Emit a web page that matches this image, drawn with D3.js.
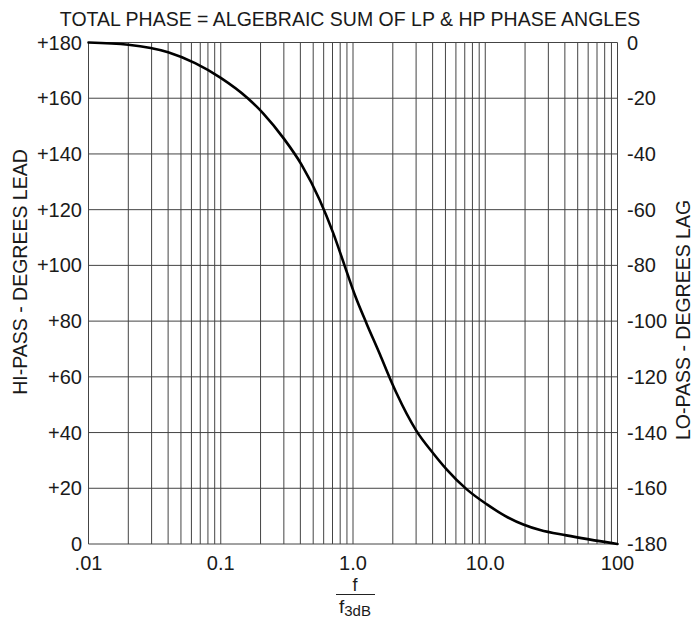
<!DOCTYPE html>
<html>
<head>
<meta charset="utf-8">
<script src="https://cdn.jsdelivr.net/npm/d3@7/dist/d3.min.js"></script>
<style>
  body { margin: 0; background: #fff; }
  svg text { font-family: "Liberation Sans", Arial, sans-serif; fill: #1a1a1a; }
</style>
</head>
<body>
<svg width="697" height="620"></svg>
<script>
// normalised frequency f / f3dB and hi-pass phase lead (deg)
var freq  = [0.01, 0.02, 0.04, 0.064, 0.1, 0.16, 0.21, 0.3, 0.41, 0.56, 0.71, 0.86, 1.04, 1.27, 1.6, 1.9, 2.14, 3.0, 4.05, 5.1, 7.25, 10.3, 14, 19.4, 26, 41, 100];
var phase = [180, 179.2, 176.5, 172.6, 167.3, 160, 154.5, 145.5, 136, 123.5, 111.5, 100.2, 89, 79, 68, 59.5, 54, 40.8, 32.5, 26.8, 19.6, 14.2, 10.2, 7, 5, 3.1, 0];

var yTicks = [180, 160, 140, 120, 100, 80, 60, 40, 20, 0];
var leftLabels  = ['+180', '+160', '+140', '+120', '+100', '+80', '+60', '+40', '+20', '0'];
var rightLabels = ['0', '-20', '-40', '-60', '-80', '-100', '-120', '-140', '-160', '-180'];
var xTicks  = [0.01, 0.1, 1, 10, 100];
var xLabels = ['.01', '0.1', '1.0', '10.0', '100'];

var svg = d3.select('svg');
var plotLeft = 88.5, plotRight = 617.5, plotTop = 42.5, plotBottom = 544;

var x = d3.scaleLog().domain([0.01, 100]).range([plotLeft, plotRight]);
var y = d3.scaleLinear().domain([0, 180]).range([plotBottom, plotTop]);

// 1..9 lines in every decade
var vlines = [];
for (var e = -2; e < 2; e++) {
  for (var k = 1; k <= 9; k++) vlines.push(k * Math.pow(10, e));
}
vlines.push(100);

var grid = svg.append('g').attr('stroke', '#444').attr('stroke-width', 1);

grid.selectAll('line.v')
  .data(vlines)
  .enter().append('line')
  .attr('class', 'v')
  .attr('x1', function(d) { return x(d); })
  .attr('x2', function(d) { return x(d); })
  .attr('y1', plotTop)
  .attr('y2', plotBottom);

grid.selectAll('line.h')
  .data(yTicks)
  .enter().append('line')
  .attr('class', 'h')
  .attr('x1', plotLeft)
  .attr('x2', plotRight)
  .attr('y1', function(d) { return y(d); })
  .attr('y2', function(d) { return y(d); });

// phase curve
var line = d3.line()
  .x(function(d, i) { return x(freq[i]); })
  .y(function(d) { return y(d); })
  .curve(d3.curveMonotoneX);

svg.append('path')
  .datum(phase)
  .attr('d', line)
  .attr('fill', 'none')
  .attr('stroke', '#000')
  .attr('stroke-width', 2.6)
  .attr('stroke-linecap', 'round');

// tick labels
svg.selectAll('text.yl')
  .data(yTicks)
  .enter().append('text')
  .attr('class', 'yl')
  .attr('x', 82)
  .attr('y', function(d) { return y(d) + 7; })
  .attr('text-anchor', 'end')
  .attr('font-size', 20)
  .text(function(d, i) { return leftLabels[i]; });

svg.selectAll('text.yr')
  .data(yTicks)
  .enter().append('text')
  .attr('class', 'yr')
  .attr('x', 627)
  .attr('y', function(d) { return y(d) + 7; })
  .attr('font-size', 20)
  .text(function(d, i) { return rightLabels[i]; });

svg.selectAll('text.xl')
  .data(xTicks)
  .enter().append('text')
  .attr('class', 'xl')
  .attr('x', function(d) { return x(d); })
  .attr('y', 570)
  .attr('text-anchor', 'middle')
  .attr('font-size', 20)
  .text(function(d, i) { return xLabels[i]; });

// title
svg.append('text')
  .attr('x', 350)
  .attr('y', 26)
  .attr('text-anchor', 'middle')
  .attr('font-size', 19.5)
  .text('TOTAL PHASE = ALGEBRAIC SUM OF LP & HP PHASE ANGLES');

// axis titles
svg.append('text')
  .attr('transform', 'translate(27,272) rotate(-90)')
  .attr('text-anchor', 'middle')
  .attr('font-size', 19.5)
  .text('HI-PASS - DEGREES LEAD');

svg.append('text')
  .attr('transform', 'translate(690,320) rotate(-90)')
  .attr('text-anchor', 'middle')
  .attr('font-size', 19.5)
  .text('LO-PASS - DEGREES LAG');

// x axis label: f over f3dB
var cx = 355;
svg.append('text')
  .attr('x', cx).attr('y', 591)
  .attr('text-anchor', 'middle')
  .attr('font-size', 18)
  .text('f');
svg.append('line')
  .attr('x1', cx - 19).attr('x2', cx + 20)
  .attr('y1', 594.5).attr('y2', 594.5)
  .attr('stroke', '#222').attr('stroke-width', 1);
var den = svg.append('text')
  .attr('x', cx).attr('y', 613)
  .attr('text-anchor', 'middle')
  .attr('font-size', 19);
den.append('tspan').text('f');
den.append('tspan').attr('dy', 3).attr('font-size', 15).text('3dB');
</script>
</body>
</html>
